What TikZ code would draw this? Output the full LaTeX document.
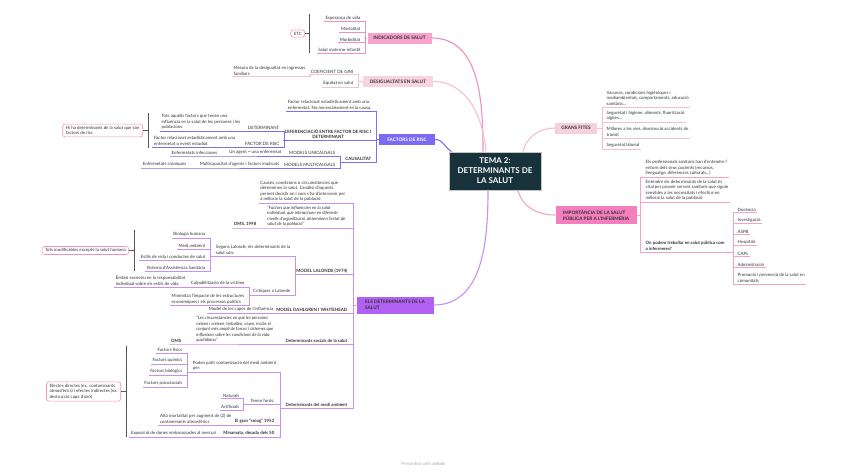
\documentclass[tikz,border=0pt]{standalone}
\usepackage{fontspec}
\setmainfont{Lato}
\definecolor{ink}{HTML}{333333}
\definecolor{temafill}{HTML}{17323B}
\definecolor{indfill}{HTML}{F7A3CD}
\definecolor{indline}{HTML}{F28DC0}
\definecolor{desfill}{HTML}{F9D3E1}
\definecolor{desline}{HTML}{F2C2D3}
\definecolor{risfill}{HTML}{7A6BF3}
\definecolor{risline}{HTML}{7F70F0}
\definecolor{detfill}{HTML}{B160F2}
\definecolor{detline}{HTML}{C690F5}
\definecolor{fitfill}{HTML}{F6D0DE}
\definecolor{fitline}{HTML}{F1C1D2}
\definecolor{impfill}{HTML}{F47EBE}
\definecolor{impline}{HTML}{F4A2C8}
\definecolor{brkcol}{HTML}{555555}
\definecolor{sumcol}{HTML}{F48FC0}
\begin{document}
\begin{tikzpicture}[x=1pt,y=-1pt,
  txt/.style={inner xsep=1.5pt,inner ysep=1.2pt,align=left,text=ink,font=\fontsize{4.4}{5.6}\selectfont},
  boldtxt/.style={txt,font=\fontsize{4.4}{5.6}\selectfont\bfseries},
  quotetxt/.style={txt,font=\fontsize{4.4}{5.6}\selectfont\itshape},
  lside/.style={anchor=south east},
  rside/.style={anchor=south west},
  mainbox/.style={inner sep=0pt,align=left,text=ink,font=\fontsize{4.7}{6}\selectfont\bfseries},
  sumbox/.style={txt,draw=sumcol,fill=white,rounded corners=2.5pt,line width=0.6pt,inner xsep=3pt,inner ysep=2pt},
  bracket/.style={draw=brkcol,line width=0.7pt},
  branch/.style={line width=1.1pt},
  sub/.style={line width=0.75pt}]
\fill[white] (0,0) rectangle (848,471);
\useasboundingbox (0,0) rectangle (848,471);

\node[fill=temafill,draw=gray!45,line width=1pt,minimum width=92pt,minimum height=38pt,align=center,text=white,font=\fontsize{8}{10}\selectfont\bfseries] (tema) at (495,171) {TEMA 2:\\DETERMINANTS DE\\LA SALUT};

\node[mainbox,fill=indfill,minimum width=64pt,minimum height=11pt] (indic) at (399.5,38) {INDICADORS DE SALUT};
\node[mainbox,fill=desfill,minimum width=70pt,minimum height=11pt] (desig) at (398,81.5) {DESIGUALTATS EN SALUT};
\node[mainbox,fill=risfill,text=white,minimum width=56pt,minimum height=11pt] (risc) at (407,139.5) {FACTORS DE RISC};
\node[mainbox,fill=detfill,minimum width=77pt,minimum height=17pt] (deter) at (395,305) {ELS DETERMINANTS DE LA\\SALUT};
\node[mainbox,fill=fitfill,minimum width=42pt,minimum height=11pt] (fites) at (576,128) {GRANS FITES};
\node[mainbox,fill=impfill,minimum width=81pt,minimum height=18pt] (impor) at (596,215) {IMPORTÀNCIA DE LA SALUT\\PÚBLICA PER A L'INFERMERIA};

\draw[branch,indline] ([xshift=-12pt]tema.north) to[out=90,in=0] (indic.east);
\draw[branch,desline] ([xshift=-9pt]tema.north) to[out=95,in=0] (desig.east);
\draw[branch,risline] ([xshift=3pt]tema.north west) to[out=150,in=0] (risc.east);
\draw[branch,detline] ([xshift=-7pt]tema.south) to[out=-90,in=0] (deter.east);
\draw[branch,fitline] ([xshift=28pt]tema.north) to[out=75,in=180] (fites.west);
\draw[branch,impline] ([xshift=23pt]tema.south) to[out=-75,in=180] (impor.west);

\coordinate (indbus) at (365,0);
\node[txt,lside] (esp) at (362,21.5) {Esperança de vida};
\node[txt,lside] (mort) at (362,32) {Mortalitat};
\node[txt,lside] (morb) at (362,42.5) {Morbiditat};
\node[txt,lside] (smi) at (362,53) {Salut materno-infantil};
\draw[sub,indline] (esp.south west) -- (esp.south west -| indbus) -- (smi.south west -| indbus) -- (smi.south west);
\draw[sub,indline] (mort.south west) -- (mort.south west -| indbus);
\draw[sub,indline] (morb.south west) -- (morb.south west -| indbus);
\draw[sub,indline] (indbus |- indic.west) -- (indic.west);
\coordinate (indbrk) at (309,33.5);
\node[sumbox,anchor=east] (etc) at (305,33.5) {ETC};
\draw[bracket] (309,14) -- (309,53);
\draw[bracket] (etc.east) -- (indbrk);

\coordinate (desbus) at (358,0);
\node[txt,lside] (gini) at (355,74.5) {COEFICIENT DE GINI};
\node[txt,lside] (equi) at (355,87) {Equitat en salut};
\node[txt,lside] (mesu) at (307,76.5) {Mesura de la desigualtat en ingressos\\familiars};
\draw[sub,desline] (gini.south west) -- (gini.south west -| desbus) -- (equi.south west -| desbus) -- (equi.south west);
\draw[sub,desline] (desbus |- desig.west) -- (desig.west);
\draw[sub,desline] (mesu.south west) -- (mesu.south east) -- ++(3,0) |- (gini.south west);

\coordinate (risbus) at (376,0);
\node[txt,lside] (frel) at (373,111) {Factor relacionat estadísticament amb una\\enfermetat. No necessàriament és la causa.};
\node[boldtxt,lside,align=center] (difer) at (373,140) {DIFERENCIACIÓ ENTRE FACTOR DE RISC I\\DETERMINANT};
\node[boldtxt,lside] (caus) at (373,162) {CAUSALITAT};
\draw[sub,risline] (frel.south west) -- (frel.south west -| risbus) -- (caus.south west -| risbus) -- (caus.south west);
\draw[sub,risline] (difer.south west) -- (difer.south west -| risbus);
\draw[sub,risline] (risbus |- risc.west) -- (risc.west);

\coordinate (difbus) at (284,0);
\node[txt,lside] (detm) at (281,131) {DETERMINANT};
\node[txt,lside] (frisc) at (281,147) {FACTOR DE RISC};
\node[txt,lside] (tots) at (242,131) {Tots aquells factors que tenen una\\influència en la salut de les persones i les\\poblacions.};
\node[txt,lside] (frel2) at (237,147) {Factor relacionat estadísticament amb una\\enfermetat o event estudiat};
\draw[sub,risline] (detm.south west) -- (detm.south west -| difbus) -- (frisc.south west -| difbus) -- (frisc.south west);
\draw[sub,risline] (difbus |- difer.south) -- (difer.south west);
\draw[sub,risline] (tots.south west) -- (detm.south west);
\draw[sub,risline] (frel2.south west) -- (frisc.south west);
\coordinate (risbrk) at (148,130.5);
\node[sumbox,anchor=east,minimum width=80pt] (hiha) at (143,130.5) {Hi ha determinants de la salut que són\\factors de risc};
\draw[bracket] (148,113) -- (148,148);
\draw[bracket] (hiha.east) -- (risbrk);

\coordinate (causbus) at (340,0);
\node[txt,lside] (munic) at (337,156) {MODELS UNICAUSALS};
\node[txt,lside] (mmult) at (337,168) {MODELS MULTICAUSALS};
\node[txt,lside] (agent) at (283,156) {Un agent = una enfermetat};
\node[txt,lside] (infec) at (219,156) {Enfermetats infeccioses};
\node[txt,lside] (multi) at (281,168) {Multicapacitat d'agents i factors implicats};
\node[txt,lside] (cron) at (188,168) {Enfermetats cròniques};
\draw[sub,risline] (munic.south west) -- (munic.south west -| causbus) -- (mmult.south west -| causbus) -- (mmult.south west);
\draw[sub,risline] (causbus |- caus.south) -- (caus.south west);
\draw[sub,risline] (infec.south west) -- (agent.south west) -- (munic.south west);
\draw[sub,risline] (cron.south west) -- (multi.south west) -- (mmult.south west);

\coordinate (detbus) at (353,0);
\node[txt,lside] (causes) at (347,203) {Causes, condicions o circumstàncies que\\determinen la salut. L'anàlisi d'aquests\\permet decidir on i com s'ha d'intervenir per\\a millorar la salut de la població};
\node[quotetxt,lside] (quot1) at (347,228) {“Factors que influencien en la salut\\individual, que interactuen en diferents\\nivells d'organització, determinen l'estat de\\salut de la població”};
\node[boldtxt,lside] (oms98) at (258,228) {OMS, 1998};
\node[boldtxt,lside] (lalon) at (349,274.5) {MODEL LALONDE (1974)};
\node[boldtxt,lside] (dahl) at (349,313) {MODEL DAHLGREN I WHITEHEAD};
\node[boldtxt,lside] (socia) at (349,344) {Determinants socials de la salut};
\node[boldtxt,lside] (medi) at (349,408) {Determinants del medi ambient};
\draw[sub,detline] (causes.south west) -- (causes.south west -| detbus) -- (medi.south west -| detbus) -- (medi.south west);
\draw[sub,detline] (oms98.south west) -- (quot1.south west) -- (quot1.south west -| detbus);
\draw[sub,detline] (lalon.south west) -- (lalon.south west -| detbus);
\draw[sub,detline] (dahl.south west) -- (dahl.south west -| detbus);
\draw[sub,detline] (socia.south west) -- (socia.south west -| detbus);
\draw[sub,detline] (detbus |- deter.west) -- (deter.west);

\coordinate (lalbus) at (295,0);
\node[txt,lside] (segons) at (292,256) {Segons Lalonde, els determinants de la\\salut són:};
\node[txt,lside] (critiq) at (292,295) {Crítiques a Lalonde};
\draw[sub,detline] (segons.south west) -- (segons.south west -| lalbus) -- (critiq.south west -| lalbus) -- (critiq.south west);
\draw[sub,detline] (lalbus |- lalon.south) -- (lalon.south west);

\coordinate (segbus) at (210.5,0);
\node[txt,lside] (bio) at (207,238) {Biologia humana};
\node[txt,lside] (medamb) at (207,249) {Medi ambient};
\node[txt,lside] (estils) at (207,260) {Estils de vida i conductes de salut};
\node[txt,lside] (sist) at (207,271) {Sistema d'Assistència Sanitària};
\draw[sub,detline] (bio.south west) -- (bio.south west -| segbus) -- (sist.south west -| segbus) -- (sist.south west);
\draw[sub,detline] (medamb.south west) -- (medamb.south west -| segbus);
\draw[sub,detline] (estils.south west) -- (estils.south west -| segbus);
\draw[sub,detline] (segbus |- segons.south) -- (segons.south west);
\coordinate (lalbrk) at (134,250.5);
\node[sumbox,anchor=east] (totsmod) at (129,250.5) {Tots modificables excepte la salut humana};
\draw[bracket] (134,230) -- (134,271);
\draw[bracket] (totsmod.east) -- (lalbrk);

\coordinate (cribus) at (249,0);
\node[txt,lside] (culpa) at (246,287) {Culpabilització de la víctima};
\node[txt,lside] (minim) at (246,305.5) {Minimitza l'impacte de les estructures\\econòmiques i els processos polítics};
\node[txt,lside] (emfasi) at (187,287) {Èmfasi excessiu en la responsabilitat\\individual sobre els estils de vida};
\draw[sub,detline] (culpa.south west) -- (culpa.south west -| cribus) -- (minim.south west -| cribus) -- (minim.south west);
\draw[sub,detline] (cribus |- critiq.south) -- (critiq.south west);
\draw[sub,detline] (emfasi.south west) -- (culpa.south west);

\node[txt,lside] (capes) at (275,313) {Model de les capes de l'influència};
\draw[sub,detline] (capes.south west) -- (dahl.south west);

\node[quotetxt,lside] (quot2) at (275,344) {“Les circumstàncies en què les persones\\neixen i creixen, treballen, viuen, inclòs el\\conjunt més ampli de forces i sistemes que\\influeixen sobre les condicions de la vida\\quotidiana”};
\node[boldtxt,lside] (oms) at (183,344) {OMS};
\draw[sub,detline] (oms.south west) -- (quot2.south west) -- (socia.south west);

\coordinate (medbus) at (280,0);
\node[txt,lside] (poden) at (278,372) {Poden patir contaminació del medi ambient\\per:};
\node[txt,lside] (fonts) at (276,404) {Tenen fonts:};
\node[boldtxt,lside] (smog) at (276,425) {El gran “smog” 1952};
\node[boldtxt,lside] (minam) at (276,437) {Minamata, dècada dels 50};
\draw[sub,detline] (poden.south west) -- (poden.south west -| medbus) -- (minam.south west -| medbus) -- (minam.south west);
\draw[sub,detline] (fonts.south west) -- (fonts.south west -| medbus);
\draw[sub,detline] (smog.south west) -- (smog.south west -| medbus);
\draw[sub,detline] (medbus |- medi.south) -- (medi.south west);

\coordinate (podbus) at (187.5,0);
\node[txt,lside] (fisic) at (184,353) {Factors físics};
\node[txt,lside] (quim) at (184,364) {Factors químics};
\node[txt,lside] (biol) at (184,375) {Factors biològics};
\node[txt,lside] (psico) at (184,387) {Factors psicosocials};
\draw[sub,detline] (fisic.south west) -- (fisic.south west -| podbus) -- (psico.south west -| podbus) -- (psico.south west);
\draw[sub,detline] (quim.south west) -- (quim.south west -| podbus);
\draw[sub,detline] (biol.south west) -- (biol.south west -| podbus);
\draw[sub,detline] (podbus |- poden.south) -- (poden.south west);
\coordinate (medbrk) at (126,391.5);
\node[sumbox,anchor=east] (efect) at (121,391.5) {Efectes directes (ex. contaminants\\atmosfèrics) i efectes indirectes (ex.\\destrucció capa d'ozó)};
\draw[bracket] (126,346) -- (126,437);
\draw[bracket] (efect.east) -- (medbrk);

\coordinate (fontbus) at (243,0);
\node[txt,lside] (natur) at (241,398.5) {Naturals};
\node[txt,lside] (artif) at (241,410) {Artificials};
\draw[sub,detline] (natur.south west) -- (natur.south west -| fontbus) -- (artif.south west -| fontbus) -- (artif.south west);
\draw[sub,detline] (fontbus |- fonts.south) -- (fonts.south west);

\node[txt,lside] (alta) at (233,425) {Alta mortalitat per augment de (2) de\\contaminants atmosfèrics};
\node[txt,lside] (expos) at (218,437) {Exposició de dones embarassades al mercuri};
\draw[sub,detline] (alta.south west) -- (smog.south west);
\draw[sub,detline] (expos.south west) -- (minam.south west);

\coordinate (fitbus) at (602.5,0);
\node[txt,rside] (vacu) at (605,107) {Vacunes, condicions higièniques i\\mediambientals, comportaments, educació\\sanitària...};
\node[txt,rside] (segur) at (605,122) {Seguretat i higiene, aliments, fluorització\\aigües...};
\node[txt,rside] (millo) at (605,138) {Millores a les vies, disminució accidents de\\trànsit};
\node[txt,rside] (labor) at (605,149) {Seguretat laboral};
\draw[sub,fitline] (vacu.south east) -- (vacu.south east -| fitbus) -- (labor.south east -| fitbus) -- (labor.south east);
\draw[sub,fitline] (segur.south east) -- (segur.south east -| fitbus);
\draw[sub,fitline] (millo.south east) -- (millo.south east -| fitbus);
\draw[sub,fitline] (fites.east) -- (fites.east -| fitbus);

\coordinate (impbus) at (640.5,0);
\node[txt,rside] (prof) at (644,177) {Els professionals sanitaris han d'entendre l'\\entorn dels seus pacients (recursos,\\llenguatge, diferències culturals...)};
\node[txt,rside] (entend) at (644,202) {Entendre els determinants de la salut és\\vital per proveir serveis sanitaris que siguin\\sensibles a les necessitats i efectius en\\millorar la salut de la població};
\node[boldtxt,rside] (onpod) at (644,252) {On podem treballar en salut pública com\\a infermeres?};
\draw[sub,impline] (prof.south east) -- (prof.south east -| impbus) -- (onpod.south east -| impbus) -- (onpod.south east);
\draw[sub,impline] (entend.south east) -- (entend.south east -| impbus);
\draw[sub,impline] (impor.east) -- (impor.east -| impbus);

\coordinate (onbus) at (733,0);
\node[txt,rside] (doc) at (736,212.5) {Docència};
\node[txt,rside] (inv) at (736,223.5) {Investigació};
\node[txt,rside] (aspb) at (736,234.5) {ASPB};
\node[txt,rside] (hosp) at (736,245.5) {Hospitals};
\node[txt,rside] (caps) at (736,256.5) {CAPs};
\node[txt,rside] (admin) at (736,267.5) {Administració};
\node[txt,rside] (promo) at (736,284) {Promoció i prevenció de la salut en\\comunitats};
\draw[sub,impline] (doc.south east) -- (doc.south east -| onbus) -- (promo.south east -| onbus) -- (promo.south east);
\draw[sub,impline] (inv.south east) -- (inv.south east -| onbus);
\draw[sub,impline] (aspb.south east) -- (aspb.south east -| onbus);
\draw[sub,impline] (hosp.south east) -- (hosp.south east -| onbus);
\draw[sub,impline] (caps.south east) -- (caps.south east -| onbus);
\draw[sub,impline] (admin.south east) -- (admin.south east -| onbus);
\draw[sub,impline] (onpod.south east) -- (onpod.south east -| onbus);

\node[text=black!30,font=\fontsize{4.5}{5}\selectfont] (mark) at (423,463.5) {Presented with \textbf{xmind}};
\end{tikzpicture}
\end{document}
